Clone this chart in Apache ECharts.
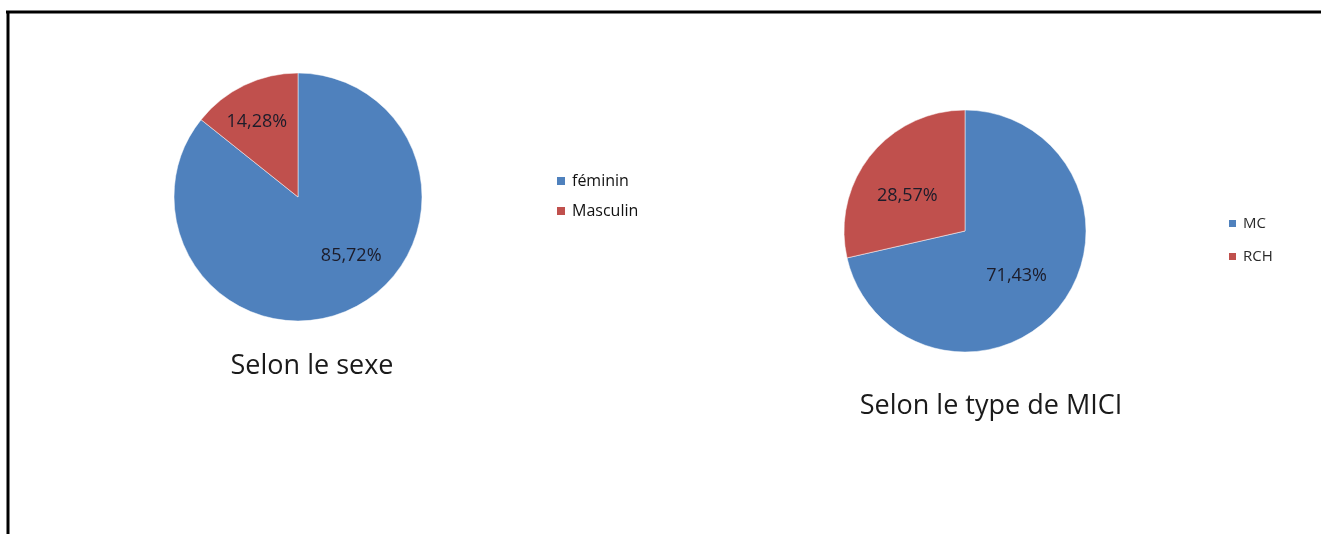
<!DOCTYPE html>
<html>
<head>
<meta charset="utf-8">
<script src="https://cdn.jsdelivr.net/npm/echarts@6/dist/echarts.min.js"></script>
<style>
  html, body { margin: 0; padding: 0; background: #fff; }
  #chart { width: 1321px; height: 534px; }
</style>
</head>
<body>
<div id="chart"></div>
<script>
// Répartition des patients selon le sexe et le type de MICI
const sexeCategories = ['féminin', 'Masculin'];
const sexeValues = [85.72, 14.28];
const sexeTitle = 'Selon le sexe';

const typeCategories = ['MC', 'RCH'];
const typeValues = [71.43, 28.57];
const typeTitle = 'Selon le type de MICI';

const colors = ['#4F81BD', '#C0504D'];
const fontFamily = '"Open Sans", "Noto Sans", sans-serif';

// label nudges so each percentage sits where it reads best in its slice
const sexeLabelOffsets = [[25, 0], [-13, -17]];
const typeLabelOffsets = [[2, 5], [-8, 4]];

function fmt(v) {
  return v.toFixed(2).replace('.', ',') + '%';
}

function buildData(cats, vals, offsets) {
  return cats.map((name, i) => ({
    name: name,
    value: vals[i],
    itemStyle: { color: colors[i] },
    label: { offset: offsets[i] }
  }));
}

const chart = echarts.init(document.getElementById('chart'), null, { renderer: 'canvas' });

const pieLabel = {
  show: true,
  position: 'inside',
  formatter: p => fmt(p.value),
  color: '#1c1c2a',
  fontSize: 18,
  fontFamily: fontFamily
};

const titleStyle = { fontSize: 27, fontWeight: 'normal', color: '#1a1a1a', fontFamily: fontFamily };

chart.setOption({
  animation: false,
  backgroundColor: '#ffffff',
  title: [
    { text: sexeTitle, left: 307, top: 348, textAlign: 'center', textStyle: titleStyle },
    { text: typeTitle, left: 986, top: 388, textAlign: 'center', textStyle: titleStyle }
  ],
  legend: [
    {
      data: sexeCategories,
      orient: 'vertical',
      left: 550, top: 168,
      itemWidth: 10, itemHeight: 10, itemGap: 14,
      icon: 'rect',
      textStyle: { fontSize: 16, color: '#111', fontFamily: fontFamily, padding: [0, 0, 0, 1] }
    },
    {
      data: typeCategories,
      orient: 'vertical',
      left: 1222, top: 211,
      itemWidth: 9, itemHeight: 9, itemGap: 18,
      icon: 'rect',
      textStyle: { fontSize: 15, color: '#2a2a2a', fontFamily: fontFamily, padding: [0, 0, 0, 1] }
    }
  ],
  series: [
    {
      type: 'pie',
      center: [298, 197],
      radius: 124,
      startAngle: 90,
      clockwise: true,
      label: pieLabel,
      labelLine: { show: false },
      itemStyle: { borderColor: '#ffffff', borderWidth: 0.5 },
      emphasis: { disabled: true },
      data: buildData(sexeCategories, sexeValues, sexeLabelOffsets)
    },
    {
      type: 'pie',
      center: [965, 231],
      radius: 121,
      startAngle: 90,
      clockwise: true,
      label: pieLabel,
      labelLine: { show: false },
      itemStyle: { borderColor: '#ffffff', borderWidth: 0.5 },
      emphasis: { disabled: true },
      data: buildData(typeCategories, typeValues, typeLabelOffsets)
    }
  ],
  graphic: [
    { type: 'line', shape: { x1: 6, y1: 12, x2: 1321, y2: 12 }, style: { stroke: '#000', lineWidth: 3 } },
    { type: 'line', shape: { x1: 8, y1: 11, x2: 8, y2: 534 }, style: { stroke: '#000', lineWidth: 3 } }
  ]
});
</script>
</body>
</html>
